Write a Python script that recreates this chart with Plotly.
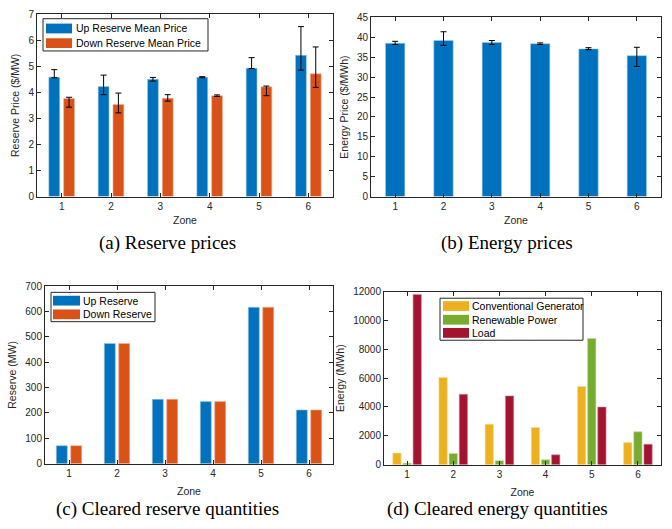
import plotly.graph_objects as go

# ---------------- data ----------------
zones = [1, 2, 3, 4, 5, 6]
zone_labels = ["1", "2", "3", "4", "5", "6"]

# (a) reserve prices ($/MW): mean with upper / lower spread
up_price = [4.58, 4.22, 4.50, 4.58, 4.92, 5.42]
up_price_hi = [4.87, 4.66, 4.57, 4.60, 5.33, 6.52]
up_price_lo = [4.56, 3.91, 4.43, 4.56, 4.91, 4.85]
down_price = [3.76, 3.53, 3.77, 3.87, 4.21, 4.71]
down_price_hi = [3.81, 3.97, 3.91, 3.90, 4.24, 5.74]
down_price_lo = [3.43, 3.21, 3.66, 3.84, 3.87, 4.19]

# (b) energy prices ($/MWh)
energy_price = [38.5, 39.2, 38.7, 38.4, 37.1, 35.4]
energy_price_hi = [39.0, 41.4, 39.2, 38.6, 37.4, 37.5]
energy_price_lo = [38.2, 38.0, 38.2, 38.2, 36.9, 32.7]

# (c) cleared reserve (MW)
up_reserve = [71, 474, 254, 245, 617, 212]
down_reserve = [71, 474, 254, 245, 617, 212]

# (d) cleared energy (MWh)
conv_gen = [800, 6050, 2800, 2570, 5420, 1530]
renewable = [100, 770, 270, 340, 8750, 2280]
load = [11800, 4880, 4770, 680, 4000, 1420]

# tick labels
ticks_a = [0, 1, 2, 3, 4, 5, 6, 7]
ticks_b = [0, 5, 10, 15, 20, 25, 30, 35, 40, 45]
ticks_c = [0, 100, 200, 300, 400, 500, 600, 700]
ticks_d = [0, 2000, 4000, 6000, 8000, 10000, 12000]

# ---------------- styling ----------------
W, H = 672, 529
BLUE, ORANGE = "#0072BD", "#D95319"
YELLOW, GREEN, RED = "#EDB120", "#77AC30", "#A2142F"
AXC = "#262626"
SANS = "Liberation Sans, Arial, sans-serif"
SERIF = "Liberation Serif, Times New Roman, serif"


def px_x(p):
    return p / W


def px_y(p):
    return 1 - p / H


def err(hi, lo, mean):
    return dict(
        type="data", symmetric=False,
        array=[h - m for h, m in zip(hi, mean)],
        arrayminus=[m - l for m, l in zip(mean, lo)],
        color="black", thickness=1, width=3,
    )


def edge(c):
    return dict(color=c, width=0.6)


fig = go.Figure()

# (a)
fig.add_trace(go.Bar(x=zones, y=up_price, name="Up Reserve Mean Price",
                     marker=dict(color=BLUE, line=edge("#9fc9ea")),
                     width=0.22, offset=-0.26,
                     error_y=err(up_price_hi, up_price_lo, up_price),
                     xaxis="x", yaxis="y"))
fig.add_trace(go.Bar(x=zones, y=down_price, name="Down Reserve Mean Price",
                     marker=dict(color=ORANGE, line=edge("#f0b59c")),
                     width=0.22, offset=0.04,
                     error_y=err(down_price_hi, down_price_lo, down_price),
                     xaxis="x", yaxis="y"))

# (b)
fig.add_trace(go.Bar(x=zones, y=energy_price, name="Energy Price",
                     marker=dict(color=BLUE, line=edge("#9fc9ea")),
                     width=0.4,
                     error_y=err(energy_price_hi, energy_price_lo, energy_price),
                     xaxis="x2", yaxis="y2"))

# (c)
fig.add_trace(go.Bar(x=zones, y=up_reserve, name="Up Reserve",
                     marker=dict(color=BLUE, line=edge("#9fc9ea")),
                     width=0.23, offset=-0.265,
                     xaxis="x3", yaxis="y3"))
fig.add_trace(go.Bar(x=zones, y=down_reserve, name="Down Reserve",
                     marker=dict(color=ORANGE, line=edge("#f0b59c")),
                     width=0.23, offset=0.035,
                     xaxis="x3", yaxis="y3"))

# (d)
fig.add_trace(go.Bar(x=zones, y=conv_gen, name="Conventional Generator",
                     marker=dict(color=YELLOW, line=edge("#f7dc9a")),
                     width=0.18, offset=-0.31,
                     xaxis="x4", yaxis="y4"))
fig.add_trace(go.Bar(x=zones, y=renewable, name="Renewable Power",
                     marker=dict(color=GREEN, line=edge("#c2dc9c")),
                     width=0.18, offset=-0.09,
                     xaxis="x4", yaxis="y4"))
fig.add_trace(go.Bar(x=zones, y=load, name="Load",
                     marker=dict(color=RED, line=edge("#d78a98")),
                     width=0.18, offset=0.13,
                     xaxis="x4", yaxis="y4"))


def xaxis(dom, anchor, standoff):
    return dict(domain=dom, anchor=anchor, range=[0.5, 6.5],
                tickvals=zones, ticktext=zone_labels,
                showline=True, linecolor=AXC, linewidth=1, mirror="ticks",
                ticks="inside", ticklen=4, tickcolor=AXC,
                showgrid=False, zeroline=False,
                tickfont=dict(family=SANS, size=10, color=AXC),
                title=dict(text="Zone", standoff=standoff,
                           font=dict(family=SANS, size=10.5, color=AXC)))


def yaxis(dom, anchor, rng, vals, title, standoff):
    return dict(domain=dom, anchor=anchor, range=rng,
                tickvals=vals, ticktext=[str(v) for v in vals],
                showline=True, linecolor=AXC, linewidth=1, mirror="ticks",
                ticks="inside", ticklen=4, tickcolor=AXC,
                showgrid=False, zeroline=False,
                tickfont=dict(family=SANS, size=10, color=AXC),
                title=dict(text=title, standoff=standoff,
                           font=dict(family=SANS, size=10.5, color=AXC)))


fig.update_layout(
    width=W, height=H, margin=dict(l=0, r=0, t=0, b=0),
    paper_bgcolor="white", plot_bgcolor="white",
    barmode="overlay", showlegend=False,
    xaxis=xaxis([px_x(37), px_x(333)], "y", 6),
    yaxis=yaxis([px_y(195), px_y(8.3)], "x", [0, 7], ticks_a,
                "Reserve Price ($/MW)", 6),
    xaxis2=xaxis([px_x(371), px_x(661)], "y2", 6),
    yaxis2=yaxis([px_y(195), px_y(11.7)], "x2", [0, 45], ticks_b,
                 "Energy Price ($/MWh)", 6),
    xaxis3=xaxis([px_x(45), px_x(333)], "y3", 9),
    yaxis3=yaxis([px_y(468.3), px_y(286.7)], "x3", [0, 700], ticks_c,
                 "Reserve (MW)", 6),
    xaxis4=xaxis([px_x(384), px_x(661)], "y4", 9),
    yaxis4=yaxis([px_y(469.3), px_y(292.3)], "x4", [0, 12000], ticks_d,
                 "Energy (MWh)", 6),
)


# MATLAB-style legend boxes: wide colour swatch followed by the label
def add_legend(box, swatch_x, text_x, entries):
    x0, y0, x1, y1 = box
    fig.add_shape(type="rect", xref="paper", yref="paper", layer="above",
                  x0=px_x(x0), x1=px_x(x1), y0=px_y(y1), y1=px_y(y0),
                  fillcolor="white", line=dict(color=AXC, width=1))
    for label, color, cy in entries:
        fig.add_shape(type="rect", xref="paper", yref="paper", layer="above",
                      x0=px_x(swatch_x[0]), x1=px_x(swatch_x[1]),
                      y0=px_y(cy + 5), y1=px_y(cy - 5),
                      fillcolor=color, line=dict(width=0))
        fig.add_annotation(text=label, x=px_x(text_x), y=px_y(cy),
                           xref="paper", yref="paper", showarrow=False,
                           xanchor="left", yanchor="middle",
                           font=dict(family=SANS, size=10.5, color="black"))


add_legend((43, 13, 208, 46), (46, 72), 74,
           [("Up Reserve Mean Price", BLUE, 23),
            ("Down Reserve Mean Price", ORANGE, 38)])
add_legend((51, 293, 155, 323), (53, 80), 81,
           [("Up Reserve", BLUE, 301.5),
            ("Down Reserve", ORANGE, 315.5)])
add_legend((440, 299, 583, 342), (443, 469), 470,
           [("Conventional Generator", YELLOW, 307),
            ("Renewable Power", GREEN, 321),
            ("Load", RED, 334.5)])

captions = [
    ("(a) Reserve prices", 167, 242),
    ("(b) Energy prices", 507, 242),
    ("(c) Cleared reserve quantities", 167, 515),
    ("(d) Cleared energy quantities", 497, 515),
]
for text, cx, cy in captions:
    fig.add_annotation(text=text, x=px_x(cx), y=px_y(cy), xref="paper",
                       yref="paper", showarrow=False, xanchor="center",
                       yanchor="middle",
                       font=dict(family=SERIF, size=19, color="black"))

fig.write_html("out.html")
